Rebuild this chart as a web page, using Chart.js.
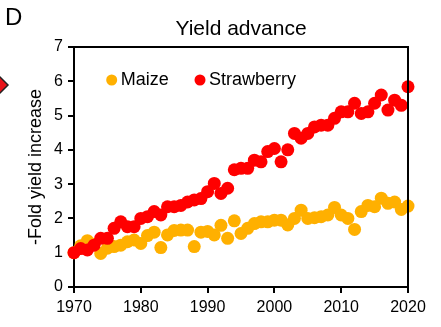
<!DOCTYPE html>
<html>
<head>
<meta charset="utf-8">
<script src="https://cdn.jsdelivr.net/npm/chart.js@4/dist/chart.umd.min.js"></script>
<style>
  html, body { margin: 0; padding: 0; background: #fff; }
  #wrap { width: 441px; height: 327px; }
</style>
</head>
<body>
<div id="wrap"><canvas id="yieldChart" width="441" height="327"></canvas></div>
<script>
// data (fold increase relative to 1970)
const years = [];
for (let y = 1970; y <= 2020; y++) years.push(y);

const maize = [
  1.00, 1.20, 1.35, 1.25, 0.98, 1.13, 1.18, 1.22, 1.32, 1.37,
  1.27, 1.50, 1.60, 1.15, 1.52, 1.65, 1.66, 1.66, 1.18, 1.60,
  1.62, 1.52, 1.80, 1.42, 1.93, 1.56, 1.71, 1.85, 1.90, 1.90,
  1.95, 1.95, 1.81, 2.00, 2.24, 2.00, 2.02, 2.05, 2.10, 2.32,
  2.10, 2.00, 1.68, 2.20, 2.38, 2.34, 2.59, 2.44, 2.48, 2.26,
  2.36
];

const strawberry = [
  1.00, 1.12, 1.08, 1.22, 1.42, 1.42, 1.71, 1.90, 1.76, 1.76,
  2.00, 2.05, 2.20, 2.10, 2.34, 2.34, 2.38, 2.48, 2.54, 2.58,
  2.78, 3.02, 2.73, 2.88, 3.42, 3.46, 3.46, 3.70, 3.65, 3.95,
  4.04, 3.65, 4.00, 4.48, 4.34, 4.48, 4.67, 4.72, 4.72, 4.92,
  5.11, 5.11, 5.36, 5.06, 5.11, 5.36, 5.60, 5.16, 5.45, 5.30,
  5.84
];

const seriesNames = ['Maize', 'Strawberry'];
const seriesColors = ['#FFB000', '#FF0000'];
const xTicks = [1970, 1980, 1990, 2000, 2010, 2020];
const yTicks = [0, 1, 2, 3, 4, 5, 6, 7];
const chartTitle = 'Yield advance';

const FONT = '"Liberation Sans", Arial, sans-serif';
const toPoints = vals => vals.map((v, i) => ({ x: years[i], y: v }));

// box around the plot, title over the plot, panel letter, legend inside the plot
const decorations = {
  id: 'decorations',
  afterDraw(chart) {
    const { ctx, chartArea: a } = chart;
    ctx.save();
    ctx.strokeStyle = '#000';
    ctx.lineWidth = 2;
    ctx.beginPath();
    ctx.moveTo(a.left, a.top);
    ctx.lineTo(a.right, a.top);
    ctx.lineTo(a.right, a.bottom);
    ctx.stroke();

    ctx.fillStyle = '#000';
    ctx.textBaseline = 'alphabetic';
    ctx.textAlign = 'center';
    ctx.font = '21px ' + FONT;
    ctx.fillText(chartTitle, (a.left + a.right) / 2, 35);

    ctx.textAlign = 'left';
    ctx.font = '24px ' + FONT;
    ctx.fillText('D', 5, 25);

    // edge of the neighbouring panel's marker
    ctx.fillStyle = '#E8141B';
    ctx.strokeStyle = '#222';
    ctx.lineWidth = 1.5;
    ctx.beginPath();
    ctx.moveTo(8, 85);
    ctx.lineTo(-4, 73);
    ctx.lineTo(-16, 85);
    ctx.lineTo(-4, 97);
    ctx.closePath();
    ctx.fill();
    ctx.stroke();

    const legendX = [111.7, 200];
    ctx.font = '18px ' + FONT;
    ctx.textBaseline = 'middle';
    seriesNames.forEach((name, i) => {
      ctx.fillStyle = seriesColors[i];
      ctx.beginPath();
      ctx.arc(legendX[i], 80, 5.5, 0, Math.PI * 2);
      ctx.fill();
      ctx.fillStyle = '#000';
      ctx.fillText(name, legendX[i] + 9, 80);
    });
    ctx.restore();
  }
};

new Chart(document.getElementById('yieldChart'), {
  type: 'scatter',
  data: {
    datasets: [
      {
        label: seriesNames[0],
        data: toPoints(maize),
        backgroundColor: seriesColors[0],
        borderWidth: 0,
        pointRadius: 6.5,
        order: 1
      },
      {
        label: seriesNames[1],
        data: toPoints(strawberry),
        backgroundColor: seriesColors[1],
        borderWidth: 0,
        pointRadius: 6.5,
        order: 0
      }
    ]
  },
  options: {
    responsive: false,
    animation: false,
    clip: false,
    layout: { padding: { left: 0, right: 33, top: 47, bottom: 0 } },
    plugins: {
      legend: { display: false },
      tooltip: { enabled: false },
      title: { display: false }
    },
    scales: {
      x: {
        type: 'linear',
        min: 1970,
        max: 2020,
        afterBuildTicks: scale => { scale.ticks = xTicks.map(v => ({ value: v })); },
        afterFit: scale => { scale.height = 40; },
        ticks: {
          color: '#000',
          padding: 5,
          maxRotation: 0,
          font: { family: FONT, size: 16 },
          callback: v => String(v)
        },
        grid: { drawOnChartArea: false, drawTicks: true, tickLength: 6, color: '#000', lineWidth: 2 },
        border: { display: true, color: '#000', width: 2 }
      },
      y: {
        min: 0,
        max: 7,
        afterBuildTicks: scale => { scale.ticks = yTicks.map(v => ({ value: v })); },
        afterFit: scale => { scale.width = 74; },
        ticks: {
          color: '#000',
          padding: 5,
          font: { family: FONT, size: 16 }
        },
        grid: { drawOnChartArea: false, drawTicks: true, tickLength: 6, color: '#000', lineWidth: 2 },
        border: { display: true, color: '#000', width: 2 },
        title: {
          display: true,
          text: '-Fold yield increase',
          color: '#000',
          font: { family: FONT, size: 18 },
          padding: { top: 25, bottom: 0 }
        }
      }
    }
  },
  plugins: [decorations]
});
</script>
</body>
</html>
